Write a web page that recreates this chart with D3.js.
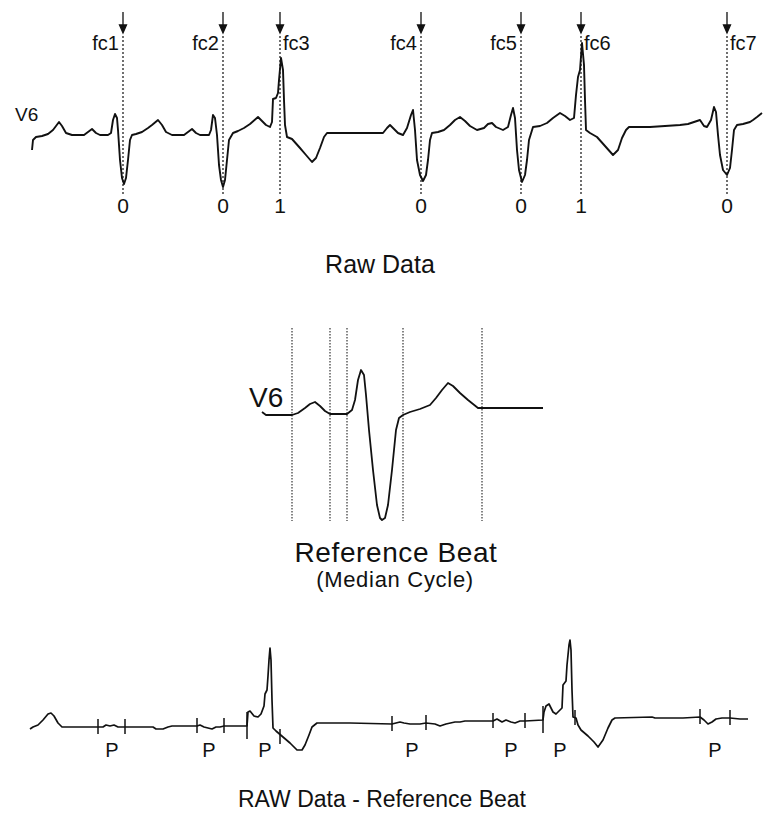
<!DOCTYPE html>
<html>
<head>
<meta charset="utf-8">
<script src="https://cdn.jsdelivr.net/npm/d3@7"></script>
<style>
  body { margin: 0; background: #fff; }
  text { font-family: Arial, "Liberation Sans", sans-serif; fill: #111; }
  .narrow { font-family: "Liberation Sans Narrow", "Arial Narrow", Arial, sans-serif; }
</style>
</head>
<body>
<div id="chart"></div>
<script>
// raw V6 lead: [sample, amplitude]
const rawTrace = [
  [2,-15],[3,-5],[6,-2],[12,-1],[18,1],[23,5],[29,13],[32,9],[36,2],[42,0],[54,0],[58,3],[62,6],[66,2],[70,0],
  [78,0],[81,2],[83,15],[85,21],[87,17],[88,5],[90,-25],[92,-43],[94,-49],[96,-43],[98,-25],[100,-5],[102,0],
  [106,1],[112,3],[118,7],[122,10],[128,15],[132,10],[136,3],[142,0],[154,0],[158,3],[162,6],[166,2],[170,0],
  [179,0],[181,5],[183,20],[185,17],[187,0],[189,-30],[191,-45],[193,-52],[195,-45],[197,-25],[199,-5],[203,2],
  [208,4],[214,7],[220,11],[228,18],[232,14],[236,10],[240,8],[242,13],[243,36],[246,37],[248,42],[249,55],
  [251,77],[253,65],[254,35],[255,10],[257,-2],[262,-4],[270,-13],[276,-20],[282,-27],[286,-23],[290,-13],
  [294,-2],[297,2],[318,2],[353,2],[357,7],[360,10],[364,6],[368,2],[373,0],[377,7],[381,20],[383,25],[385,5],
  [387,-25],[390,-40],[393,-46],[396,-40],[398,-25],[400,-5],[402,2],[408,3],[414,5],[420,10],[425,15],[430,18],
  [435,14],[440,9],[447,5],[454,7],[458,11],[462,12],[466,8],[473,5],[478,8],[481,20],[483,27],[485,17],
  [487,-15],[489,-35],[492,-47],[495,-40],[497,-25],[499,-5],[503,8],[510,9],[517,12],[523,17],[530,22],[535,19],
  [540,15],[544,17],[546,40],[548,58],[550,65],[552,92],[554,70],[555,35],[556,5],[560,2],[567,-2],[575,-11],
  [583,-20],[588,-15],[592,-3],[596,5],[599,8],[620,8],[650,10],[658,11],[664,13],[670,15],[674,9],[677,8],
  [681,15],[684,28],[686,23],[688,0],[690,-20],[693,-35],[697,-40],[700,-33],[702,-15],[704,5],[707,10],
  [713,11],[720,13],[723,15],[727,18],[732,22]
];

// fiducial points on the raw trace
const fcNames = ["fc1", "fc2", "fc3", "fc4", "fc5", "fc6", "fc7"];
const fcSamples = [93, 193, 250, 391, 491, 551, 697];
const fcClass = ["0", "0", "1", "0", "0", "1", "0"];
const fcLabelSide = ["left", "left", "right", "left", "left", "right", "right"];

// median reference beat
const refBeat = [
  [0,3],[4,0],[30,0],[36,2],[43,7],[48,11],[53,13],[58,9],[63,4],[68,1],[85,1],[90,5],[93,15],[96,35],[99,45],
  [102,40],[104,20],[107,-15],[111,-55],[115,-90],[118,-103],[120,-105],[123,-103],[126,-90],[130,-55],[134,-15],
  [137,-3],[141,0],[148,3],[158,6],[168,10],[174,17],[180,25],[186,32],[191,29],[198,22],[206,15],[216,7],
  [220,7],[281,7]
];
const refBounds = [30, 68, 85, 141, 220];

// residual: raw minus reference
const residual = [
  [0,-2],[3,0],[8,2],[13,7],[18,13],[21,14],[24,11],[28,4],[32,0],[67,0],[73,0],[76,2],[80,1],[84,2],[88,0],
  [95,0],[123,0],[126,-2],[133,-2],[138,0],[142,1],[167,1],[170,2],[174,0],[178,-1],[182,-2],[186,0],[190,0],
  [194,1],[217,1],[218,15],[220,16],[224,11],[228,10],[231,13],[234,21],[235,33],[237,37],[238,51],[239,67],
  [240,79],[241,67],[242,27],[243,-1],[246,-4],[253,-10],[260,-16],[267,-23],[272,-23],[275,-18],[279,-8],
  [282,0],[287,4],[320,4],[362,3],[366,4],[370,5],[374,4],[380,3],[390,3],[396,4],[405,3],[410,1],[416,3],
  [425,5],[430,5],[435,6],[440,6],[463,6],[467,8],[472,5],[476,7],[481,5],[485,4],[490,6],[495,6],[513,7],
  [514,15],[516,21],[519,23],[523,15],[526,13],[530,17],[532,19],[533,42],[536,46],[537,62],[539,82],[540,87],
  [541,77],[542,37],[543,10],[546,9],[548,2],[551,-3],[558,-9],[564,-15],[568,-20],[573,-13],[578,-1],[582,7],
  [585,9],[622,10],[625,9],[653,9],[670,10],[674,7],[678,3],[682,5],[686,8],[692,9],[700,9],[710,8],[718,8]
];
const pTicks = [68, 95, 167, 194, 217, 250, 362, 396, 463, 495, 513, 545, 670, 700];
const pTickLong = [217, 513];
const pLabels = [82, 179, 235, 382, 481, 530, 685];

const W = 763, H = 814;
const svg = d3.select("#chart").append("svg")
  .attr("width", W).attr("height", H);

// ---------- panel 1: raw data ----------
const x1 = d3.scaleLinear().domain([0, 732]).range([30, 762]);
const y1 = d3.scaleLinear().domain([-60, 100]).range([195, 35]);

const line1 = d3.line().x(d => x1(d[0])).y(d => y1(d[1]));

const gRaw = svg.append("g");

// dotted fiducial lines
gRaw.selectAll(".fcline")
  .data(fcSamples)
  .join("line")
    .attr("x1", d => x1(d)).attr("x2", d => x1(d))
    .attr("y1", 36).attr("y2", 196)
    .attr("stroke", "#222").attr("stroke-width", 1.3)
    .attr("stroke-dasharray", "2,2");

// arrows
gRaw.selectAll(".arrow")
  .data(fcSamples)
  .join("path")
    .attr("d", d => {
      const x = x1(d);
      return `M${x},12 L${x},27 M${x - 3.5},25 L${x + 3.5},25 L${x},33 Z`;
    })
    .attr("stroke", "#111").attr("stroke-width", 1.3).attr("fill", "#111");

gRaw.selectAll(".fclabel")
  .data(fcNames)
  .join("text")
    .attr("class", "narrow")
    .attr("x", (d, i) => fcLabelSide[i] === "left" ? x1(fcSamples[i]) - 4 : x1(fcSamples[i]) + 3)
    .attr("y", 50)
    .attr("text-anchor", (d, i) => fcLabelSide[i] === "left" ? "end" : "start")
    .style("font-size", "20px")
    .text(d => d);

gRaw.selectAll(".fcclass")
  .data(fcClass)
  .join("text")
    .attr("class", "narrow")
    .attr("x", (d, i) => x1(fcSamples[i]))
    .attr("y", 213)
    .attr("text-anchor", "middle")
    .style("font-size", "21px")
    .text(d => d);

gRaw.append("path")
  .datum(rawTrace)
  .attr("d", line1)
  .attr("fill", "none").attr("stroke", "#111").attr("stroke-width", 1.9)
  .attr("stroke-linejoin", "round");

gRaw.append("text")
  .attr("x", 15).attr("y", 121)
  .style("font-size", "19px")
  .text("V6");

svg.append("text")
  .attr("x", 380).attr("y", 273)
  .attr("text-anchor", "middle")
  .style("font-size", "25px")
  .text("Raw Data");

// ---------- panel 2: reference beat ----------
const x2 = d3.scaleLinear().domain([0, 281]).range([262, 543]);
const y2 = d3.scaleLinear().domain([-105, 45]).range([520, 370]);
const line2 = d3.line().x(d => x2(d[0])).y(d => y2(d[1]));

const gRef = svg.append("g");
gRef.selectAll(".bound")
  .data(refBounds)
  .join("line")
    .attr("x1", d => x2(d)).attr("x2", d => x2(d))
    .attr("y1", 328).attr("y2", 521)
    .attr("stroke", "#222").attr("stroke-width", 1.1)
    .attr("stroke-dasharray", "1.5,1.5");

gRef.append("path")
  .datum(refBeat)
  .attr("d", line2)
  .attr("fill", "none").attr("stroke", "#111").attr("stroke-width", 1.8)
  .attr("stroke-linejoin", "round");

gRef.append("text")
  .attr("x", 249).attr("y", 407)
  .style("font-size", "28px")
  .text("V6");

svg.append("text")
  .attr("x", 396).attr("y", 562)
  .attr("text-anchor", "middle")
  .style("font-size", "28px")
  .style("letter-spacing", "0.6px")
  .text("Reference Beat");

svg.append("text")
  .attr("x", 395).attr("y", 587)
  .attr("text-anchor", "middle")
  .style("font-size", "22px")
  .style("letter-spacing", "0.7px")
  .text("(Median Cycle)");

// ---------- panel 3: residual ----------
const y3 = d3.scaleLinear().domain([-25, 90]).range([752, 637]);
const line3 = d3.line().x(d => x1(d[0])).y(d => y3(d[1]));

const gRes = svg.append("g");

// value of residual at tick sample (nearest point)
function resAt(t) {
  const i = d3.bisector(d => d[0]).center(residual, t);
  return residual[i][1];
}

gRes.selectAll(".ptick")
  .data(pTicks)
  .join("line")
    .attr("x1", d => x1(d)).attr("x2", d => x1(d))
    .attr("y1", d => pTickLong.includes(d) ? y3(resAt(d)) - 14 : y3(resAt(d)) - 8)
    .attr("y2", d => pTickLong.includes(d) ? y3(resAt(d)) + 13 : y3(resAt(d)) + 7)
    .attr("stroke", "#111").attr("stroke-width", 1.5);

gRes.append("path")
  .datum(residual)
  .attr("d", line3)
  .attr("fill", "none").attr("stroke", "#111").attr("stroke-width", 1.7)
  .attr("stroke-linejoin", "round");

gRes.selectAll(".plabel")
  .data(pLabels)
  .join("text")
    .attr("x", d => x1(d))
    .attr("y", 757)
    .attr("text-anchor", "middle")
    .style("font-size", "20px")
    .text("P");

svg.append("text")
  .attr("x", 382).attr("y", 807)
  .attr("text-anchor", "middle")
  .style("font-size", "23px")
  .text("RAW Data - Reference Beat");
</script>
</body>
</html>
